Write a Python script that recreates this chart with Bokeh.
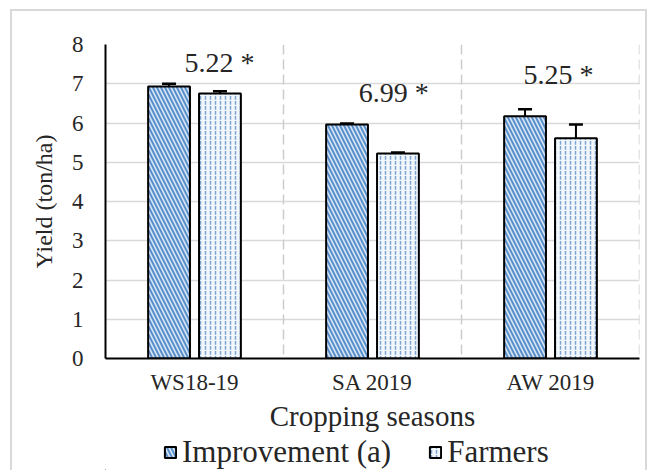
from bokeh.plotting import figure
from bokeh.layouts import column
from bokeh.models import (FactorRange, Whisker, TeeHead, ColumnDataSource, Span,
                          Legend, LegendItem, SingleIntervalTicker, Range1d)
from bokeh.transform import dodge
from bokeh.core.properties import value
from bokeh.embed import file_html
from bokeh.resources import INLINE

# ---- data ----
seasons = ["WS18-19", "SA 2019", "AW 2019"]
improvement = [6.93, 5.96, 6.17]
improvement_err = [0.07, 0.03, 0.18]
farmers = [6.75, 5.22, 5.61]
farmers_err = [0.06, 0.03, 0.35]
sig_labels = ["5.22 *", "6.99 *", "5.25 *"]
sig_label_y = [7.55, 6.78, 7.24]
sig_label_dx = [0.14, 0.12, 0.045]
series_names = ["Improvement (a)", "Farmers"]
y_max = 8

FONT = "Liberation Serif"
TXT = "#262626"
IMP_STYLE = dict(fill_color="#d6e7f7", line_color="black", line_width=2,
                 hatch_pattern="\\", hatch_color="#5b8fc9", hatch_scale=8,
                 hatch_weight=2)
FAR_STYLE = dict(fill_color="#f2f7fc", line_color="black", line_width=2,
                 hatch_pattern=":", hatch_color="#7da4d1", hatch_scale=5,
                 hatch_weight=1.5)

src = ColumnDataSource(dict(
    x=seasons,
    imp=improvement,
    imp_up=[v + e for v, e in zip(improvement, improvement_err)],
    imp_lo=[v - e for v, e in zip(improvement, improvement_err)],
    far=farmers,
    far_up=[v + e for v, e in zip(farmers, farmers_err)],
    far_lo=[v - e for v, e in zip(farmers, farmers_err)],
))

W = 633
p = figure(x_range=FactorRange(*seasons, range_padding=0),
           y_range=Range1d(0, y_max),
           width=W, height=423, output_backend="svg", toolbar_location=None,
           min_border_left=93, min_border_top=33, min_border_right=6,
           min_border_bottom=76)
p.outline_line_color = None
p.background_fill_color = "white"
p.border_fill_color = "white"

# grid
p.xgrid.grid_line_color = None
p.ygrid.grid_line_color = "#d9d9d9"
p.ygrid.grid_line_width = 1.5
p.yaxis.ticker = SingleIntervalTicker(interval=1)

for k in range(1, len(seasons) + 1):
    p.add_layout(Span(location=k, dimension="height", line_color="#cccccc",
                      line_width=1.5, line_dash="10 5"))

bw = 0.235
off = 0.143
p.vbar(x=dodge("x", -off, range=p.x_range), top="imp", width=bw, source=src, **IMP_STYLE)
p.vbar(x=dodge("x", off, range=p.x_range), top="far", width=bw, source=src, **FAR_STYLE)

for base, up, lo in [(dodge("x", -off, range=p.x_range), "imp_up", "imp_lo"),
                     (dodge("x", off, range=p.x_range), "far_up", "far_lo")]:
    w = Whisker(base=base, upper=up, lower=lo, source=src, line_color="black",
                line_width=2,
                upper_head=TeeHead(size=14, line_color="black", line_width=2.5),
                lower_head=TeeHead(size=14, line_color="black", line_width=2.5))
    p.add_layout(w)

for i in range(len(seasons)):
    s = ColumnDataSource(dict(x=[seasons[i]], y=[sig_label_y[i]], t=[sig_labels[i]]))
    p.text(x=dodge("x", sig_label_dx[i], range=p.x_range), y="y", text="t", source=s,
           text_font=value(FONT), text_font_size="28px", text_align="center",
           text_baseline="middle", text_color=TXT)

# axes
for ax in (p.xaxis[0], p.yaxis[0]):
    ax.axis_line_color = "black"
    ax.axis_line_width = 2
    ax.major_tick_line_color = None
    ax.minor_tick_line_color = None
    ax.major_label_text_font = FONT
    ax.major_label_text_font_size = "23px"
    ax.major_label_text_color = TXT
    ax.axis_label_text_font = FONT
    ax.axis_label_text_font_style = "normal"
    ax.axis_label_text_color = TXT

p.yaxis.axis_label = "Yield (ton/ha)"
p.yaxis.axis_label_text_font_size = "24px"
p.yaxis.major_label_standoff = 16
p.yaxis.axis_label_standoff = 12
p.xaxis.axis_label = "Cropping seasons"
p.xaxis.axis_label_text_font_size = "29px"
p.xaxis.major_label_standoff = 5
p.xaxis.axis_label_standoff = 2

# ---- legend strip (proxy renderers sit outside the visible range) ----
leg = figure(width=W, height=36, output_backend="svg", toolbar_location=None,
             x_axis_location=None, y_axis_location=None,
             x_range=Range1d(0, 1), y_range=Range1d(0, 1),
             min_border=0, min_border_left=0, min_border_right=0,
             min_border_top=0, min_border_bottom=0)
leg.outline_line_color = None
leg.grid.grid_line_color = None
leg.border_fill_color = "white"
r1 = leg.vbar(x=[-50], top=[-50], bottom=[-60], width=0.1, **IMP_STYLE)
r2 = leg.vbar(x=[-50], top=[-50], bottom=[-60], width=0.1, **FAR_STYLE)
legend = Legend(items=[LegendItem(label=series_names[0], renderers=[r1]),
                       LegendItem(label=series_names[1], renderers=[r2])],
                orientation="horizontal", location=(58, 0),
                padding=0, margin=0, spacing=37, label_standoff=5,
                glyph_width=14, glyph_height=14,
                label_text_font=FONT, label_text_font_size="31px",
                label_text_color=TXT,
                border_line_color=None, background_fill_alpha=0)
leg.add_layout(legend, "center")

layout = column(p, leg, spacing=0)
layout.styles = {"margin-left": "10px", "margin-top": "9px",
                 "border-left": "2px solid #d9d9d9", "border-top": "2px solid #d9d9d9",
                 "border-right": "2px solid #d9d9d9"}

open("out.html", "w").write(file_html(layout, INLINE))
